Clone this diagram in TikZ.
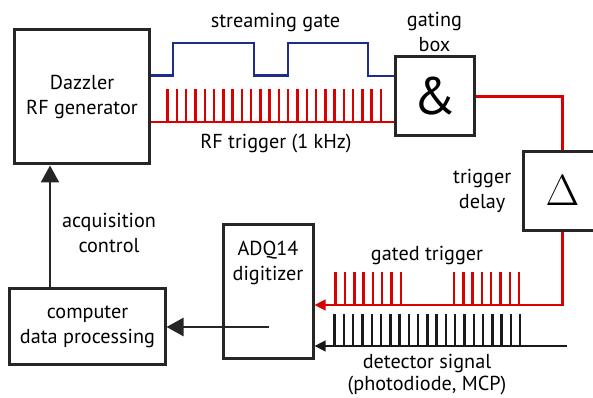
\documentclass[tikz,border=0pt]{standalone}
\usepackage{fontspec}
\setmainfont{PT Sans}
\usetikzlibrary{arrows.meta,positioning}
\definecolor{sigred}{RGB}{218,0,0}
\definecolor{sigblue}{RGB}{30,45,140}
\tikzset{
  font={\fontsize{11.5pt}{14.2pt}\selectfont}}

\begin{document}
\begin{tikzpicture}[scale=0.2]
\tikzstyle{every node}+=[inner sep=0pt]
\tikzstyle{box}=[draw=black!85, line width=0.6mm, align=center]
\tikzstyle{sig}=[line width=0.5mm]
\tikzstyle{bigtip}=[-{Triangle[length=3.4mm,width=3.6mm]}]
\tikzstyle{smalltip}=[-{Triangle[length=2.2mm,width=2.1mm]}]
\useasboundingbox (0,0) rectangle (59.3,-39.8);
\node [box, minimum width=26.8mm, minimum height=26.8mm] (dazzler) at (8.2,-9.7) {Dazzler\\RF generator};
\node [box, minimum size=15.8mm, font=\fontsize{30pt}{30pt}\selectfont] (gate) at (43.45,-9.65) {\&};
\node [box, minimum size=15.8mm, font=\fontsize{30pt}{30pt}\selectfont] (delay) at (56.25,-19.1) {$\Delta$};
\node [box, minimum width=18mm, minimum height=26.6mm] (adq) at (26.8,-29.15) {};
\node [align=center, anchor=north, below=3.4mm of adq.north] (adqtext) {ADQ14\\digitizer};
\node [box, minimum width=31mm, minimum height=15mm] (comp) at (8.75,-32.65) {computer\\data processing};
\node [align=center, above=0.6mm of gate] (gatelbl) {gating\\box};
\node [align=center, left=2mm of delay] (delaylbl) {trigger\\delay};
\node (streamlbl) at (27.55,-2.2) {streaming gate};
\node (rflbl) at (27.6,-14.4) {RF trigger (1 kHz)};
\node [align=center] (acqlbl) at (10.9,-23.3) {acquisition\\control};
\node (gatedlbl) at (42.7,-25.5) {gated trigger};
\node [align=center, font=\fontsize{11.5pt}{13pt}\selectfont] (detlbl) at (42.7,-37.45) {detector signal\\(photodiode, MCP)};
\coordinate (ctl) at (5,0);
\coordinate (adqout) at (26.9,-32.7);
\coordinate (det) at (56.7,-34.6);
\draw [black!85, sig, bigtip] (comp.north -| ctl) -- (dazzler.south -| ctl);
\draw [black!85, sig, bigtip] (adqout) -- (comp.east |- adqout);
\draw [sigblue, sig] (dazzler.east |- 0,-7.55) -- (17.3,-7.55) |- (25.4,-4.3) |- (28.8,-7.55) |- (36.8,-4.3) |- (gate.west |- 0,-7.6);
\draw [sigred, sig] (dazzler.east |- 0,-12.2) -- (gate.west |- 0,-12.2);
\foreach \x in {0,...,23}
  \draw [sigred, sig] (16.77+\x*0.927,-12.2) -- ++(0,3.3);
\draw [sigred, sig] (gate.east) -| (delay.north);
\draw [sigred, sig, smalltip] (delay.south) |- (adq.east |- 0,-30.5);
\foreach \x in {0,...,7} {
  \draw [sigred, sig] (33.57+\x*0.93,-30.5) -- ++(0,3.3);
  \draw [sigred, sig] (45.4+\x*0.93,-30.5) -- ++(0,3.3);
}
\draw [black!90, sig, smalltip] (det) -- (adq.east |- det);
\foreach \x in {0,...,20}
  \draw [black!90, sig] (33.47+\x*0.927,-34.6) -- ++(0,3.2);
\end{tikzpicture}
\end{document}
